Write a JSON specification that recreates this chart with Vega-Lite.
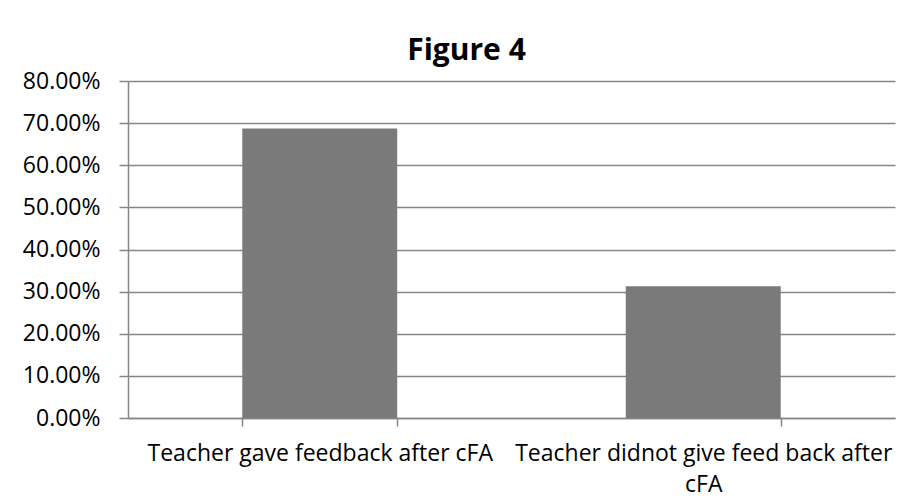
{
  "$schema": "https://vega.github.io/schema/vega-lite/v6.json",
  "autosize": "none",
  "padding": {"left": 128, "top": 81, "right": 14, "bottom": 86},
  "width": 767,
  "height": 337,
  "background": "white",
  "title": {
    "text": "Figure 4",
    "font": "Open Sans",
    "fontSize": 30,
    "fontWeight": "bold",
    "color": "#000000",
    "anchor": "middle",
    "frame": "group",
    "dx": -45,
    "offset": 4
  },
  "data": {
    "values": [
      {"category": "Teacher gave feedback after cFA", "percent": 0.6875},
      {"category": "Teacher didnot give feed back after cFA", "percent": 0.3125}
    ]
  },
  "mark": {"type": "bar", "color": "#7a7a7a"},
  "encoding": {
    "x": {
      "field": "category",
      "type": "nominal",
      "sort": null,
      "scale": {"paddingInner": 0.596, "paddingOuter": 0.298},
      "axis": {
        "title": null,
        "labelAngle": 0,
        "labelFont": "Open Sans",
        "labelFontSize": 23,
        "labelColor": "#000000",
        "labelPadding": 16,
        "labelLineHeight": 31,
        "labelLimit": 0,
        "labelExpr": "datum.label == 'Teacher didnot give feed back after cFA' ? ['Teacher didnot give feed back after', 'cFA'] : datum.label",
        "tickBand": "extent",
        "tickSize": 8,
        "tickColor": "#868686",
        "domainColor": "#868686",
        "domainWidth": 1.5,
        "tickWidth": 1.5,
        "grid": false
      }
    },
    "y": {
      "field": "percent",
      "type": "quantitative",
      "scale": {"domain": [0, 0.8], "nice": false},
      "axis": {
        "title": null,
        "format": ".2%",
        "values": [0, 0.1, 0.2, 0.3, 0.4, 0.5, 0.6, 0.7, 0.8],
        "labelFont": "Open Sans",
        "labelFontSize": 23,
        "labelColor": "#000000",
        "labelPadding": 19,
        "tickSize": 9,
        "tickColor": "#868686",
        "tickWidth": 1.5,
        "domainColor": "#868686",
        "domainWidth": 1.5,
        "gridColor": "#868686",
        "gridWidth": 1.5
      }
    }
  },
  "config": {"view": {"stroke": null}}
}
